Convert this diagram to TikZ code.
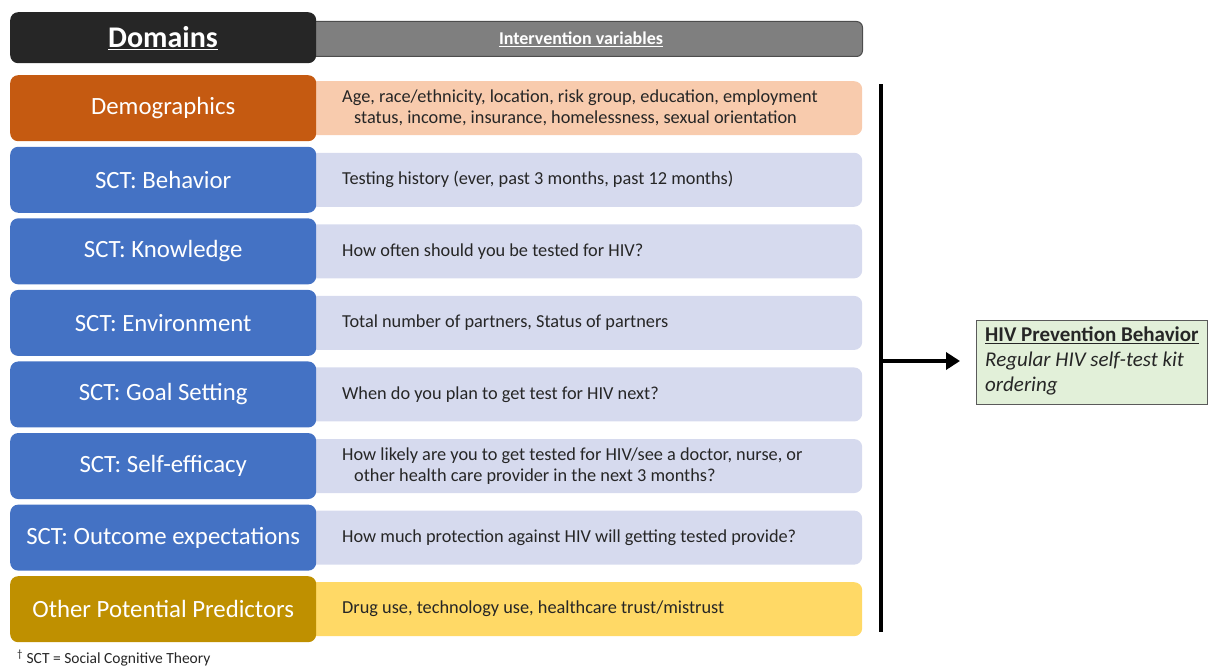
\documentclass[tikz,border=0pt]{standalone}
\usepackage{fontspec}
\setmainfont{Carlito}
\usetikzlibrary{arrows.meta}

\definecolor{hdrdark}{HTML}{262626}
\definecolor{hdrgray}{HTML}{7F7F7F}
\definecolor{hdredge}{HTML}{4D4D4D}
\definecolor{demoL}{HTML}{C55A11}
\definecolor{demoR}{HTML}{F8CBAD}
\definecolor{sctL}{HTML}{4472C4}
\definecolor{sctR}{HTML}{D6DAEE}
\definecolor{othL}{HTML}{BF9000}
\definecolor{othR}{HTML}{FFD966}
\definecolor{outG}{HTML}{E2F0D9}
\definecolor{outEdge}{HTML}{5A5A5A}
\definecolor{txt}{HTML}{262626}

\begin{document}
\begin{tikzpicture}[x=1pt,y=-1pt,
  domainbox/.style={rounded corners=8pt, anchor=north west, minimum width=306pt,
    minimum height=66pt, inner sep=0pt, text=white,
    font=\fontsize{24.8}{29}\selectfont},
  varbox/.style={rounded corners=8pt, anchor=north west, minimum width=562pt,
    minimum height=54pt, inner sep=0pt},
  vartext/.style={anchor=west, align=left, inner sep=0pt, text=txt,
    font=\fontsize{18.3}{21}\selectfont},
  bracketline/.style={line width=4pt, black},
  arrowline/.style={line width=4pt, black, -{Triangle[length=14pt,width=17pt]}}
]
\useasboundingbox (0,0) rectangle (1209,669);

% column headers
\node[rounded corners=6pt, anchor=north west, minimum width=562pt, minimum height=35pt,
  fill=hdrgray, draw=hdredge, line width=1pt, inner sep=0pt] (ivbar) at (300,21) {};
\node[text=white, font=\fontsize{18}{20}\selectfont\bfseries] (ivlab) at (581,39)
  {\underline{Intervention variables}};
\node[rounded corners=8pt, anchor=north west, minimum width=306pt, minimum height=51pt,
  fill=hdrdark, inner sep=0pt] (dombox) at (10,12) {};
\node[text=white, font=\fontsize{30}{34}\selectfont\bfseries] (domlab) at (163,38)
  {\underline{Domains}};

% domain rows: left label box and right variable box
\foreach \i/\lc/\rc/\lab/\var in {
  1/demoL/demoR/{Demographics}/{Age, race/ethnicity, location, risk group, education, employment\\\hspace*{12pt}status, income, insurance, homelessness, sexual orientation},
  2/sctL/sctR/{SCT: Behavior}/{Testing history (ever, past 3 months, past 12 months)},
  3/sctL/sctR/{SCT: Knowledge}/{How often should you be tested for HIV?},
  4/sctL/sctR/{SCT: Environment}/{Total number of partners, Status of partners},
  5/sctL/sctR/{SCT: Goal Setting}/{When do you plan to get test for HIV next?},
  6/sctL/sctR/{SCT: Self-efficacy}/{How likely are you to get tested for HIV/see a doctor, nurse, or\\\hspace*{12pt}other health care provider in the next 3 months?},
  7/sctL/sctR/{SCT: Outcome expectations}/{How much protection against HIV will getting tested provide?},
  8/othL/othR/{Other Potential Predictors}/{Drug use, technology use, healthcare trust/mistrust}}
{
  \pgfmathsetmacro{\top}{75+(\i-1)*71.57}
  \node[varbox, fill=\rc] (v\i) at (300,\top+6) {};
  \node[vartext] (vt\i) at (342,\top+33) {\var};
  \node[domainbox, fill=\lc] (d\i) at (10,\top) {\lab};
}

% bracket collecting all domains, leading to the outcome
\coordinate (btop) at (881,84);
\coordinate (bbot) at (881,632);
\coordinate (bjoin) at (881,361);
\draw[bracketline] (btop) -- (bbot);

\node[anchor=north west, minimum width=231pt, minimum height=84pt, inner sep=0pt,
  fill=outG, draw=outEdge, line width=0.8pt] (out) at (976,320) {};
\node[anchor=west, align=left, inner sep=0pt, text=txt,
  font=\fontsize{21}{25}\selectfont] (outtxt) at (985,361)
  {\textbf{\underline{HIV Prevention Behavior}}\\\textit{Regular HIV self-test kit}\\\textit{ordering}};

\draw[arrowline, shorten >=16pt] (bjoin) -- (bjoin -| out.west);

% footnote
\node[anchor=base west, inner sep=0pt, text=txt, font=\fontsize{15.5}{18}\selectfont] (fn)
  at (17,663) {\textsuperscript{†} SCT = Social Cognitive Theory};
\end{tikzpicture}
\end{document}
